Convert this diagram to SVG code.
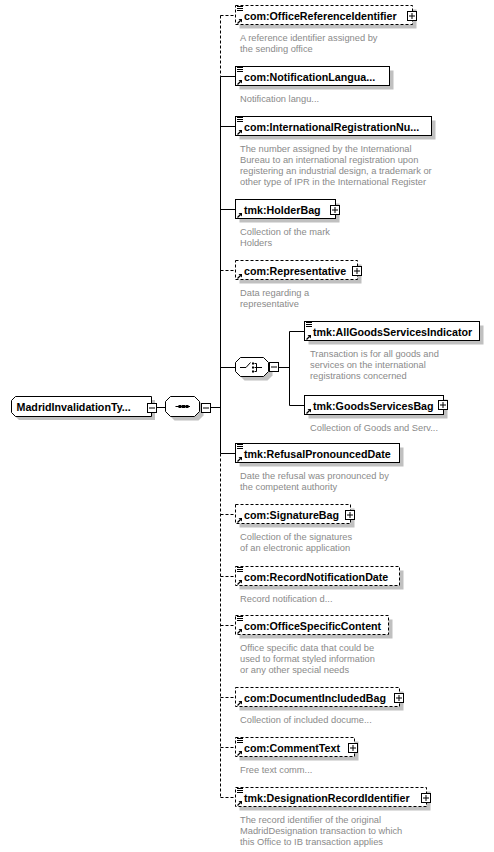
<svg xmlns="http://www.w3.org/2000/svg" xmlns:xlink="http://www.w3.org/1999/xlink" width="494" height="852" viewBox="0 0 494 852">
<style>
.box{fill:#fff;stroke:#000;stroke-width:1}
.opt{stroke-dasharray:3,2}
.sh{fill:#c0c0c0;stroke:none}
.lbl{font-family:"Liberation Sans",Arial,sans-serif;font-weight:bold;font-size:10.7px;fill:#000}
.desc{font-family:"Liberation Sans",Arial,sans-serif;font-size:9.3px;fill:#8a8a8a}
.ln{stroke:#000;stroke-width:1;fill:none}
.dl{stroke-dasharray:3,2}
</style>
<defs>
<g id="doc"><path d="M0,0.5H6M0,2.5H6M0,4.5H6" stroke="#000" stroke-width="1"/></g>
<g id="ref"><path d="M0.5,5.5L3.5,2.5" stroke="#000" stroke-width="1.2"/><path d="M1.5,1H5V4.5Z" fill="#000"/></g>
<g id="plus"><rect x="0.5" y="0.5" width="9" height="9" fill="#fff" stroke="#000"/><path d="M2,5H8M5,2V8" stroke="#000"/></g>
<g id="minus"><rect x="0.5" y="0.5" width="9" height="9" fill="#fff" stroke="#000"/><path d="M2,5H8" stroke="#000"/></g>
</defs>

<g id="connectors">
<path class="ln dl" d="M220.5,15.5V76.5"/>
<path class="ln" d="M220.5,76.5V453.5"/>
<path class="ln dl" d="M220.5,453.5V797.5"/>
<path class="ln dl" d="M220.5,15.5H235.5"/>
<path class="ln" d="M220.5,76.5H235.5M220.5,126.5H235.5M220.5,209.5H235.5M220.5,367.5H235.5M220.5,453.5H235.5"/>
<path class="ln dl" d="M220.5,270.5H235.5M220.5,514.5H235.5M220.5,576.5H235.5M220.5,625.5H235.5M220.5,697.5H235.5M220.5,747.5H235.5M220.5,797.5H235.5"/>
<path class="ln" d="M156.5,407.5H165.5M210.5,407.5H220.5"/>
<path class="ln" d="M278.5,367.5H289.5M289.5,331.5V405.5M289.5,331.5H304.5M289.5,405.5H304.5"/>
</g>

<g id="root">
<path class="sh" d="M19,400H155V420H19L15,416V404Z"/>
<path class="box" d="M15.5,396.5H151.5V416.5H15.5L11.5,412.5V400.5Z"/>
<text class="lbl" x="16.5" y="411">MadridInvalidationTy...</text>
<use href="#minus" x="147" y="403"/>
</g>

<g id="sequence">
<path class="sh" d="M174.5,400.5H198.5L203.5,405.5V415.5L198.5,420.5H174.5L169.5,415.5V405.5Z"/>
<path class="box" d="M170.5,396.5H194.5L199.5,401.5V411.5L194.5,416.5H170.5L165.5,411.5V401.5Z"/>
<path class="ln" d="M175.5,406.5H190"/>
<rect x="178.5" y="405" width="3" height="3" fill="#000"/>
<rect x="182" y="405" width="3" height="3" fill="#000"/>
<rect x="185.5" y="405" width="3" height="3" fill="#000"/>
<use href="#minus" x="201" y="403"/>
</g>

<g id="choice">
<path class="sh" d="M244.5,361.5H267.5L272.5,366.5V375.5L267.5,380.5H244.5L239.5,375.5V366.5Z"/>
<path class="box" d="M240.5,357.5H263.5L268.5,362.5V371.5L263.5,376.5H240.5L235.5,371.5V362.5Z"/>
<path class="ln" d="M240,367.5H246L250.5,362.5M256.5,363.5V371.5M254.5,367.5H262M254.5,363.5H256.5M254.5,371.5H256.5"/>
<rect x="252" y="362.5" width="2" height="2" fill="#000"/>
<rect x="252" y="366.5" width="2" height="2" fill="#000"/>
<rect x="252" y="370.5" width="2" height="2" fill="#000"/>
<use href="#minus" x="269" y="362"/>
</g>

<g id="n1">
<rect class="sh" x="239.5" y="9.5" width="177" height="19"/>
<rect class="box opt" x="235.5" y="5.5" width="177" height="19"/>
<use href="#doc" x="237" y="6"/><use href="#ref" x="237" y="18"/>
<text class="lbl" x="244" y="19.5">com:OfficeReferenceIdentifier</text>
<use href="#plus" x="407" y="11"/>
<text class="desc" x="240" y="40.5">A reference identifier assigned by</text>
<text class="desc" x="240" y="51.5">the sending office</text>
</g>

<g id="n2">
<rect class="sh" x="239.5" y="70.5" width="154" height="19"/>
<rect class="box" x="235.5" y="66.5" width="154" height="19"/>
<use href="#doc" x="237" y="67"/><use href="#ref" x="237" y="79"/>
<text class="lbl" x="244" y="80.5">com:NotificationLangua...</text>
<text class="desc" x="240" y="101.5">Notification langu...</text>
</g>

<g id="n3">
<rect class="sh" x="239.5" y="120.5" width="196" height="19"/>
<rect class="box" x="235.5" y="116.5" width="196" height="19"/>
<use href="#doc" x="237" y="117"/><use href="#ref" x="237" y="129"/>
<text class="lbl" x="244" y="130.5">com:InternationalRegistrationNu...</text>
<text class="desc" x="240" y="151.5">The number assigned by the International</text>
<text class="desc" x="240" y="162.5">Bureau to an international registration upon</text>
<text class="desc" x="240" y="173.5">registering an industrial design, a trademark or</text>
<text class="desc" x="240" y="184.5">other type of IPR in the International Register</text>
</g>

<g id="n4">
<rect class="sh" x="239.5" y="203.5" width="100" height="19"/>
<rect class="box" x="235.5" y="199.5" width="100" height="19"/>
<use href="#ref" x="237" y="212"/>
<text class="lbl" x="244" y="213.5">tmk:HolderBag</text>
<use href="#plus" x="330" y="205"/>
<text class="desc" x="240" y="234.5">Collection of the mark</text>
<text class="desc" x="240" y="245.5">Holders</text>
</g>

<g id="n5">
<rect class="sh" x="239.5" y="264.5" width="122" height="19"/>
<rect class="box opt" x="235.5" y="260.5" width="122" height="19"/>
<use href="#ref" x="237" y="273"/>
<text class="lbl" x="244" y="274.5">com:Representative</text>
<use href="#plus" x="352" y="266"/>
<text class="desc" x="240" y="295.5">Data regarding a</text>
<text class="desc" x="240" y="306.5">representative</text>
</g>

<g id="n6">
<rect class="sh" x="308.5" y="325.5" width="175" height="19"/>
<rect class="box" x="304.5" y="321.5" width="175" height="19"/>
<use href="#doc" x="306" y="322"/><use href="#ref" x="306" y="334"/>
<text class="lbl" x="313" y="335.5">tmk:AllGoodsServicesIndicator</text>
<text class="desc" x="310" y="356.5">Transaction is for all goods and</text>
<text class="desc" x="310" y="367.5">services on the international</text>
<text class="desc" x="310" y="378.5">registrations concerned</text>
</g>

<g id="n7">
<rect class="sh" x="308.5" y="399.5" width="139" height="19"/>
<rect class="box" x="304.5" y="395.5" width="139" height="19"/>
<use href="#ref" x="306" y="408"/>
<text class="lbl" x="313" y="409.5">tmk:GoodsServicesBag</text>
<use href="#plus" x="438" y="400"/>
<text class="desc" x="310" y="430.5">Collection of Goods and Serv...</text>
</g>

<g id="n8">
<rect class="sh" x="239.5" y="447.5" width="164" height="19"/>
<rect class="box" x="235.5" y="443.5" width="164" height="19"/>
<use href="#doc" x="237" y="444"/><use href="#ref" x="237" y="456"/>
<text class="lbl" x="244" y="457.5">tmk:RefusalPronouncedDate</text>
<text class="desc" x="240" y="478.5">Date the refusal was pronounced by</text>
<text class="desc" x="240" y="489.5">the competent authority</text>
</g>

<g id="n9">
<rect class="sh" x="239.5" y="508.5" width="115" height="19"/>
<rect class="box opt" x="235.5" y="504.5" width="115" height="19"/>
<use href="#ref" x="237" y="517"/>
<text class="lbl" x="244" y="518.5">com:SignatureBag</text>
<use href="#plus" x="345" y="510"/>
<text class="desc" x="240" y="539.5">Collection of the signatures</text>
<text class="desc" x="240" y="550.5">of an electronic application</text>
</g>

<g id="n10">
<rect class="sh" x="239.5" y="570.5" width="164" height="19"/>
<rect class="box opt" x="235.5" y="566.5" width="164" height="19"/>
<use href="#doc" x="237" y="567"/><use href="#ref" x="237" y="579"/>
<text class="lbl" x="244" y="580.5">com:RecordNotificationDate</text>
<text class="desc" x="240" y="601.5">Record notification d...</text>
</g>

<g id="n11">
<rect class="sh" x="239.5" y="619.5" width="153" height="19"/>
<rect class="box opt" x="235.5" y="615.5" width="153" height="19"/>
<use href="#doc" x="237" y="616"/><use href="#ref" x="237" y="628"/>
<text class="lbl" x="244" y="629.5">com:OfficeSpecificContent</text>
<text class="desc" x="240" y="650.5">Office specific data that could be</text>
<text class="desc" x="240" y="661.5">used to format styled information</text>
<text class="desc" x="240" y="672.5">or any other special needs</text>
</g>

<g id="n12">
<rect class="sh" x="239.5" y="691.5" width="164" height="19"/>
<rect class="box opt" x="235.5" y="687.5" width="164" height="19"/>
<use href="#ref" x="237" y="700"/>
<text class="lbl" x="244" y="701.5">com:DocumentIncludedBag</text>
<use href="#plus" x="394" y="693"/>
<text class="desc" x="240" y="722.5">Collection of included docume...</text>
</g>

<g id="n13">
<rect class="sh" x="239.5" y="741.5" width="119" height="19"/>
<rect class="box opt" x="235.5" y="737.5" width="119" height="19"/>
<use href="#doc" x="237" y="738"/><use href="#ref" x="237" y="750"/>
<text class="lbl" x="244" y="751.5">com:CommentText</text>
<use href="#plus" x="348" y="743"/>
<text class="desc" x="240" y="772.5">Free text comm...</text>
</g>

<g id="n14">
<rect class="sh" x="239.5" y="791.5" width="191" height="19"/>
<rect class="box opt" x="235.5" y="787.5" width="191" height="19"/>
<use href="#doc" x="237" y="788"/><use href="#ref" x="237" y="800"/>
<text class="lbl" x="244" y="801.5">tmk:DesignationRecordIdentifier</text>
<use href="#plus" x="421" y="793"/>
<text class="desc" x="240" y="822.5">The record identifier of the original</text>
<text class="desc" x="240" y="833.5">MadridDesignation transaction to which</text>
<text class="desc" x="240" y="844.5">this Office to IB transaction applies</text>
</g>
</svg>
